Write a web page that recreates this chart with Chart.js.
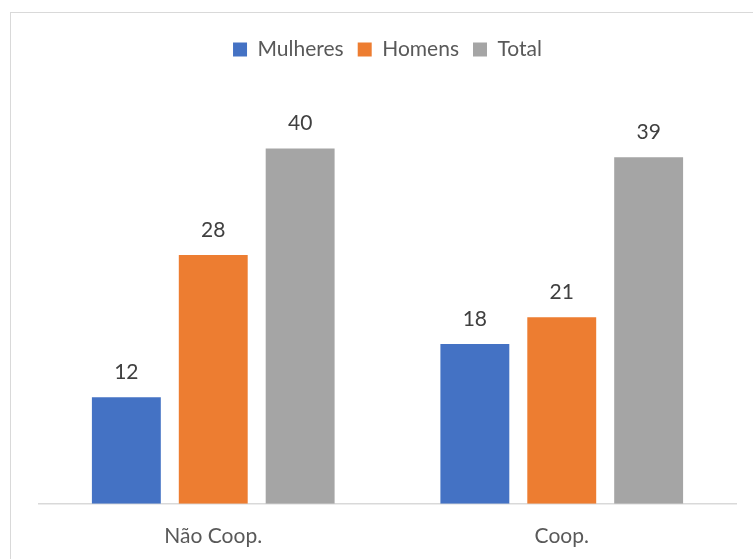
<!DOCTYPE html>
<html>
<head>
<meta charset="utf-8">
<script src="https://cdn.jsdelivr.net/npm/chart.js@4.4.0/dist/chart.umd.min.js"></script>
<style>
  html, body { margin: 0; padding: 0; background: #fff; overflow: hidden; width: 753px; height: 559px; }
  #frame { position: absolute; left: 10px; top: 12px; width: 800px; height: 600px; border: 1.5px solid #d9d9d9; box-sizing: border-box; }
  #wrap { position: absolute; left: 0; top: 0; width: 753px; height: 580px; }
</style>
</head>
<body>
<div id="frame"></div>
<div id="wrap"><canvas id="c" width="753" height="580"></canvas></div>
<script>
const categories = ["Não Coop.", "Coop."];
const seriesNames = ["Mulheres", "Homens", "Total"];
const mulheres = [12, 18];
const homens = [28, 21];
const total = [40, 39];
const colors = ["#4472C4", "#ED7D31", "#A5A5A5"];

const FONT = "Lato, 'Open Sans', sans-serif";

const labelPlugin = {
  id: 'valueLabels',
  afterDatasetsDraw(chart) {
    const ctx = chart.ctx;
    ctx.save();
    ctx.font = "21px " + FONT;
    ctx.fillStyle = "#404040";
    ctx.textAlign = "center";
    ctx.textBaseline = "middle";
    chart.data.datasets.forEach((ds, i) => {
      const meta = chart.getDatasetMeta(i);
      meta.data.forEach((bar, j) => {
        ctx.fillText(String(ds.data[j]), bar.x, bar.y - 25);
      });
    });
    ctx.restore();
  }
};

const legendSpace = {
  id: 'legendSpace',
  beforeInit(chart) {
    const orig = chart.legend.fit;
    chart.legend.fit = function () {
      orig.bind(chart.legend)();
      this.height += 34;
    };
  }
};

new Chart(document.getElementById('c'), {
  type: 'bar',
  data: {
    labels: categories,
    datasets: [
      { label: seriesNames[0], data: mulheres, backgroundColor: colors[0] },
      { label: seriesNames[1], data: homens, backgroundColor: colors[1] },
      { label: seriesNames[2], data: total, backgroundColor: colors[2] }
    ]
  },
  options: {
    responsive: false,
    animation: false,
    devicePixelRatio: 1,
    layout: { padding: { left: 39, right: 17, top: 25, bottom: 11 } },
    datasets: { bar: { categoryPercentage: 0.748, barPercentage: 0.793 } },
    plugins: {
      legend: {
        position: 'top',
        labels: {
          boxWidth: 14, boxHeight: 14, padding: 14,
          color: "#595959",
          font: { size: 21, family: FONT }
        }
      },
      tooltip: { enabled: false }
    },
    scales: {
      x: {
        grid: { display: false, drawTicks: false },
        border: { display: true, color: "#d9d9d9", width: 1.5 },
        ticks: { color: "#595959", padding: 20, font: { size: 21, family: FONT } }
      },
      y: {
        display: false,
        min: 0, max: 45
      }
    }
  },
  plugins: [labelPlugin, legendSpace]
});
</script>
</body>
</html>
